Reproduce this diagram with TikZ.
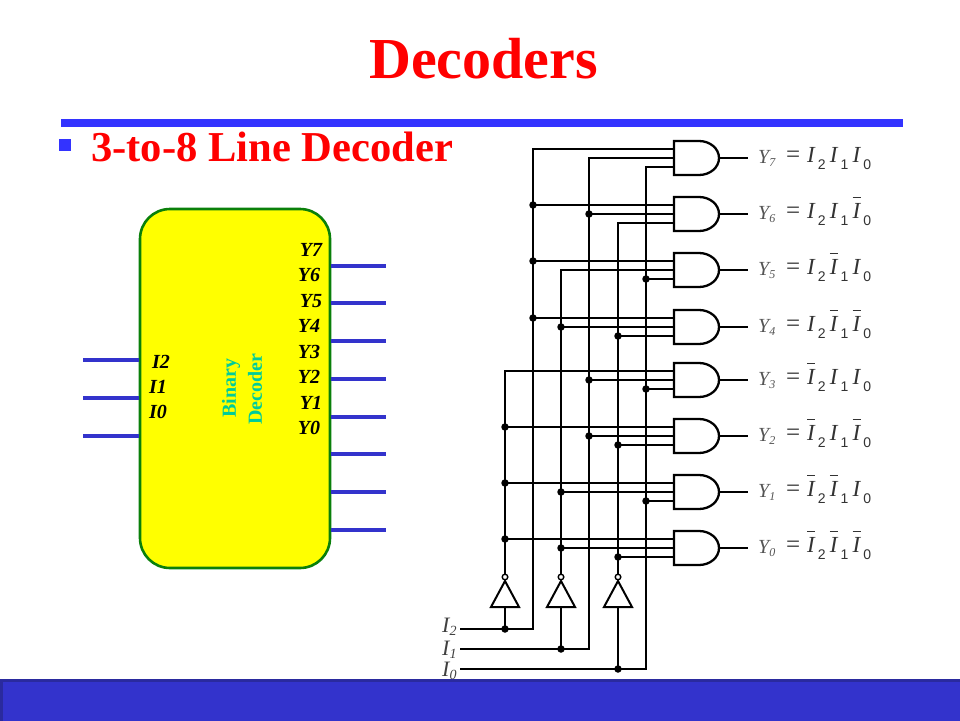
\documentclass[tikz,border=0pt]{standalone}
\usepackage{fontspec}
\setmainfont{Liberation Serif}
\newfontfamily\subsans{Liberation Sans}
\definecolor{slideblue}{HTML}{3333CC}
\definecolor{rulerblue}{HTML}{3333FF}
\definecolor{banddark}{HTML}{2A2A9E}
\definecolor{boxgreen}{HTML}{0A800A}
\definecolor{tealtext}{HTML}{00CC99}
\definecolor{glabel}{HTML}{555555}
\definecolor{boxyellow}{HTML}{FFFF00}
\definecolor{headred}{HTML}{FF0000}
\newcommand{\fsz}[1]{\fontsize{#1}{#1}\selectfont}
\newcommand{\sublit}[1]{\raisebox{-7pt}{\subsans\fsz{14}\color{black!80}#1}}
\newcommand{\litT}[1]{\makebox[22.7pt][l]{\textit{I}\hspace{2.2pt}\sublit{#1}}}
\newcommand{\litB}[1]{\makebox[22.7pt][l]{\rlap{\raisebox{20pt}{\rule{8pt}{1pt}}}\textit{I}\hspace{2.2pt}\sublit{#1}}}
\newcommand{\eqset}[3]{\makebox[21pt][l]{\fsz{25}=}#1{2}#2{1}#3{0}}
\tikzset{
  x=1pt,y=-1pt,
  wire/.style={line width=2.2pt,draw=black,line join=miter},
  gateshape/.style={line width=2.3pt,draw=black,fill=white,line join=miter},
  jdot/.style={circle,fill=black,inner sep=0pt,minimum size=7.5pt},
  bluelead/.style={line width=3.6pt,draw=slideblue},
  pinlabel/.style={font=\bfseries\itshape\fsz{20},text=black,inner sep=0pt},
  sidelabel/.style={font=\bfseries\fsz{20},text=tealtext,inner sep=0pt,rotate=90},
  eqtext/.style={font=\fsz{23},text=black!80,inner sep=0pt,anchor=base west},
  ylabel/.style={font=\itshape\fsz{20},text=glabel,inner sep=0pt,anchor=base west},
  inlabel/.style={font=\itshape\fsz{22},text=black!75,inner sep=0pt,anchor=base west},
}
\begin{document}
\begin{tikzpicture}
\useasboundingbox (0,0) rectangle (960,720);
\fill[white] (0,0) rectangle (960,720);
% headings
\node[font=\bfseries\fsz{58},text=headred,anchor=base,inner sep=0pt] (title) at (483.5,78) {Decoders};
\fill[rulerblue] (61,119) rectangle (903,127);
\fill[rulerblue] (59,139) rectangle (71,151);
\node[font=\bfseries\fsz{42.6},text=headred,anchor=base west,inner sep=0pt] (subtitle) at (91,161) {3-to-8 Line Decoder};
% block
\node[draw=boxgreen,line width=2.6pt,fill=boxyellow,rounded corners=30pt,minimum width=190pt,minimum height=359pt,inner sep=0pt] (block) at (235,388.5) {};
\foreach \i/\y in {a/360,b/398,c/436}{
  \coordinate (lin\i) at (83,\y);
  \draw[bluelead] (lin\i) -- (lin\i -| block.west);
}
\foreach \i/\y in {a/266,b/303,c/341,d/379,e/417,f/454,g/492,h/530}{
  \coordinate (lout\i) at (386,\y);
  \draw[bluelead] (lout\i -| block.east) -- (lout\i);
}
\foreach \t/\x/\y in {Y7/311/250,Y6/309/275,Y5/311/301,Y4/309/326,Y3/309/352,Y2/309/377,Y1/311/403,Y0/309/428,I2/161/362,I1/158/387,I0/158/412}{
  \node[pinlabel] (p\t) at (\x,\y) {\t};
}
\node[sidelabel] (binary) at (231,388) {Binary};
\node[sidelabel] (decoder) at (255,389) {Decoder};
% rails
\coordinate (rI2) at (533,0);
\coordinate (rI1) at (589,0);
\coordinate (rI0) at (646,0);
\coordinate (rN2) at (505,0);
\coordinate (rN1) at (561,0);
\coordinate (rN0) at (618,0);
\coordinate (ci2) at (460,629);
\coordinate (ci1) at (460,649);
\coordinate (ci0) at (460,669);
% gate pins
\foreach \n/\c in {7/158,6/214,5/270,4/327,3/380,2/436,1/492,0/548}{
  \coordinate (g\n a) at (674,{\c-9});
  \coordinate (g\n b) at (674,\c);
  \coordinate (g\n c) at (674,{\c+9});
  \coordinate (g\n o) at (719,\c);
  \coordinate (e\n) at (748,\c);
}
% true input rails
\draw[wire] (ci2) -- (rI2 |- ci2) -- (rI2 |- g7a) -- (g7a);
\draw[wire] (ci1) -- (rI1 |- ci1) -- (rI1 |- g7b) -- (g7b);
\draw[wire] (ci0) -- (rI0 |- ci0) -- (rI0 |- g7c) -- (g7c);
% inverters and complemented rails
\foreach \k/\startpin/\inp in {2/g3a/ci2,1/g5b/ci1,0/g6c/ci0}{
  \coordinate (bub\k) at (rN\k |- 0,577);
  \coordinate (base\k) at (rN\k |- 0,607);
  \coordinate (dotin\k) at (rN\k |- \inp);
  \draw[wire] (\startpin) -- (rN\k |- \startpin) -- (bub\k);
  \draw[wire,line width=2.6pt] (base\k) -- (dotin\k);
  \node[jdot] at (dotin\k) {};
  \draw[gateshape,line width=2pt] ([xshift=-14pt]base\k) -- ([xshift=14pt]base\k) -- ([yshift=26pt]base\k) -- cycle;
  \draw[line width=1.4pt,draw=black,fill=white] (bub\k) circle[radius=2.8pt];
}
% gate input branches: gate/pin/rail
\foreach \g/\p/\r in {6/a/rI2,6/b/rI1,5/a/rI2,5/c/rI0,4/a/rI2,4/b/rN1,4/c/rN0,3/b/rI1,3/c/rI0,2/a/rN2,2/b/rI1,2/c/rN0,1/a/rN2,1/b/rN1,1/c/rI0,0/a/rN2,0/b/rN1,0/c/rN0}{
  \draw[wire] (g\g\p -| \r) -- (g\g\p);
  \node[jdot] at (g\g\p -| \r) {};
}
% gates
\foreach \n in {7,6,5,4,3,2,1,0}{
  \begin{scope}[shift={(g\n b)}]
    \draw[gateshape] (0,17) -- (25,17) .. controls (36,17) and (45,9.5) .. (45,0) .. controls (45,-9.5) and (36,-17) .. (25,-17) -- (0,-17) -- cycle;
  \end{scope}
  \draw[wire] (g\n o) -- (e\n);
}
% gate labels
\foreach \n/\c in {7/158,6/214,5/270,4/327,3/380,2/436,1/492,0/548}{
  \node[ylabel] (yl\n) at (758,{\c+5}) {Y\raisebox{-3pt}{\fsz{12}\n}};
}
\foreach \n/\c/\A/\B/\C in {7/158/\litT/\litT/\litT,6/214/\litT/\litT/\litB,5/270/\litT/\litB/\litT,4/327/\litT/\litB/\litB,3/380/\litB/\litT/\litT,2/436/\litB/\litT/\litB,1/492/\litB/\litB/\litT,0/548/\litB/\litB/\litB}{
  \node[eqtext] (eq\n) at (786,{\c+4}) {\eqset{\A}{\B}{\C}};
}
% input labels
\node[inlabel] (li2) at (442,632) {I\raisebox{-3pt}{\fsz{14}2}};
\node[inlabel] (li1) at (442,655) {I\raisebox{-3pt}{\fsz{14}1}};
\node[inlabel] (li0) at (442,676) {I\raisebox{-3pt}{\fsz{14}0}};
% bottom band
\draw[draw=banddark,line width=3pt,fill=slideblue] (1,680.5) rectangle (965,725);
\end{tikzpicture}
\end{document}
